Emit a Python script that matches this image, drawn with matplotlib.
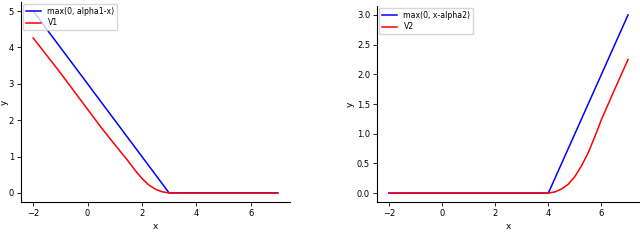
import matplotlib
matplotlib.use("Agg")
import matplotlib.pyplot as plt

# ── Data ─────────────────────────────────────────────────────────────

# left panel: max(0, alpha1 - x) and its smoothed value V1
hinge1_x = [-2, 3, 7]
hinge1_y = [5, 0, 0]
v1_x = [-2, -1, 0, 0.5, 1, 1.25, 1.5, 1.75, 2, 2.25, 2.5, 2.75, 3, 7]
v1_y = [4.26, 3.3, 2.3, 1.8, 1.33, 1.1, 0.87, 0.62, 0.4, 0.22, 0.1, 0.03, 0, 0]

# right panel: max(0, x - alpha2) and its smoothed value V2
hinge2_x = [-2, 4, 7]
hinge2_y = [0, 0, 3]
v2_x = [-2, 4, 4.25, 4.5, 4.75, 5, 5.25, 5.5, 5.75, 6, 6.5, 7]
v2_y = [0, 0, 0.02, 0.07, 0.15, 0.28, 0.46, 0.68, 0.95, 1.24, 1.75, 2.25]

labels_left = ["max(0, alpha1-x)", "V1"]
labels_right = ["max(0, x-alpha2)", "V2"]
yticks_left = [0, 1, 2, 3, 4, 5]
yticks_right = [0.0, 0.5, 1.0, 1.5, 2.0, 2.5, 3.0]
xticks = [-2, 0, 2, 4, 6]


def style(ax, yticks, ylabels, ylab_x):
    ax.spines["top"].set_visible(False)
    ax.spines["right"].set_visible(False)
    ax.set_xticks(xticks)
    ax.set_yticks(yticks)
    ax.set_yticklabels(ylabels)
    ax.tick_params(labelsize=6, length=3, width=0.6, pad=2)
    for s in ("left", "bottom"):
        ax.spines[s].set_linewidth(0.8)
    ax.set_xlabel("x", fontsize=6.5, labelpad=3)
    ax.set_ylabel("y", fontsize=6.5)
    ax.yaxis.set_label_coords(ylab_x, 0.5)
    ax.legend(loc="upper left", fontsize=5.6, borderaxespad=0.25,
              handlelength=2.0, borderpad=0.35, labelspacing=0.35)


fig = plt.figure(figsize=(6.4, 2.47), dpi=100)

ax1 = fig.add_axes([21 / 640, 45 / 247, 269 / 640, 200 / 247])
ax1.plot(hinge1_x, hinge1_y, color="blue", linewidth=1.1, label=labels_left[0])
ax1.plot(v1_x, v1_y, color="red", linewidth=1.1, label=labels_left[1])
ax1.set_xlim(-2.45, 7.45)
ax1.set_ylim(-0.25, 5.25)
style(ax1, yticks_left, [str(t) for t in yticks_left], -0.045)

ax2 = fig.add_axes([377 / 640, 45 / 247, 263 / 640, 196 / 247])
ax2.plot(hinge2_x, hinge2_y, color="blue", linewidth=1.1, label=labels_right[0])
ax2.plot(v2_x, v2_y, color="red", linewidth=1.1, label=labels_right[1])
ax2.set_xlim(-2.45, 7.45)
ax2.set_ylim(-0.15, 3.15)
style(ax2, yticks_right, [f"{t:.1f}" for t in yticks_right], -0.085)

fig.savefig("out.png", dpi=100)
